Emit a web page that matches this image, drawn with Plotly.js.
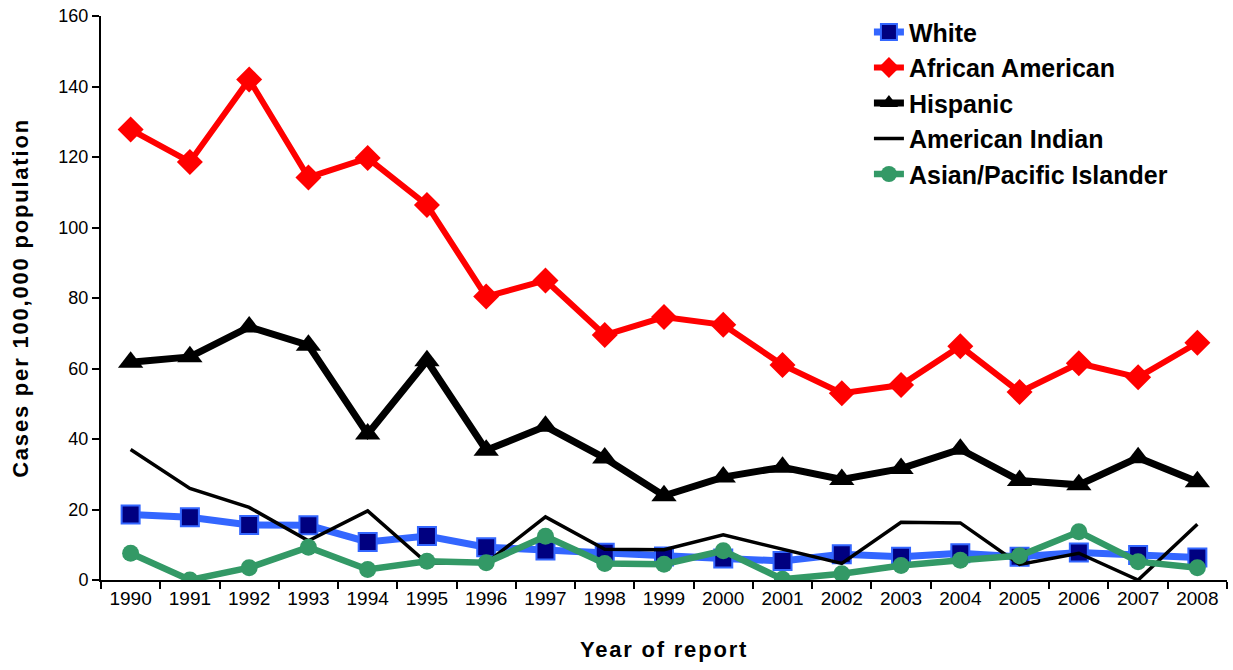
<!DOCTYPE html>
<html>
<head>
<meta charset="utf-8">
<script src="https://cdn.plot.ly/plotly-3.0.1.min.js"></script>
<style>
html,body{margin:0;padding:0;background:#fff;}
#chart{width:1233px;height:670px;}
.xtitle,.ytitle{letter-spacing:1.8px;}
</style>
</head>
<body>
<div id="chart"></div>
<script>
const years = [1990,1991,1992,1993,1994,1995,1996,1997,1998,1999,2000,2001,2002,2003,2004,2005,2006,2007,2008];
const white = [18.6,17.8,15.6,15.5,10.8,12.5,9.3,8.4,7.7,6.7,6.1,5.4,7.3,6.6,7.6,6.6,7.8,7.1,6.4];
const africanAmerican = [127.8,118.6,142.0,114.2,119.7,106.4,80.4,85.0,69.5,74.6,72.4,61.0,53.0,55.3,66.3,53.3,61.5,57.5,67.3];
const hispanic = [61.8,63.3,71.8,66.6,41.4,62.2,36.8,43.6,34.6,23.9,29.2,32.0,28.5,31.6,37.1,28.2,27.0,34.7,27.9];
const americanIndian = [37.0,26.0,20.6,11.1,19.6,4.8,4.8,17.9,8.7,8.6,12.8,8.8,4.7,16.4,16.2,4.4,7.6,0.0,15.8];
const asianPI = [7.6,0.0,3.5,9.3,3.0,5.3,4.9,12.4,4.7,4.5,8.3,0.2,1.8,4.1,5.6,6.9,13.7,5.2,3.5];
const yTicks = [0,20,40,60,80,100,120,140,160];

const traces = [
  {x: years, y: white, name: 'White', mode: 'lines+markers',
   line: {color: '#3366FF', width: 7},
   marker: {symbol: 'square', size: 18, color: '#000080', line: {color: '#3366FF', width: 2}}},
  {x: years, y: africanAmerican, name: 'African American', mode: 'lines+markers',
   line: {color: '#FF0000', width: 6},
   marker: {symbol: 'diamond', size: 20, color: '#FF0000'}},
  {x: years, y: hispanic, name: 'Hispanic', mode: 'lines+markers',
   line: {color: '#000000', width: 7},
   marker: {symbol: 'triangle-up', size: 22, color: '#000000'}},
  {x: years, y: americanIndian, name: 'American Indian', mode: 'lines',
   line: {color: '#000000', width: 3.5}},
  {x: years, y: asianPI, name: 'Asian/Pacific Islander', mode: 'lines+markers',
   line: {color: '#339966', width: 6.5},
   marker: {symbol: 'circle', size: 17, color: '#339966'}}
];

const layout = {
  width: 1233, height: 670,
  margin: {l: 101, r: 6, t: 16, b: 90},
  paper_bgcolor: '#ffffff', plot_bgcolor: '#ffffff',
  font: {family: 'Liberation Sans, Arial, sans-serif', color: '#000'},
  showlegend: true,
  legend: {x: 0.682, xanchor: 'left', y: 1.012, yanchor: 'top',
           font: {size: 25, family: 'Liberation Sans, Arial, sans-serif', weight: 'bold'},
           bgcolor: 'rgba(0,0,0,0)', tracegroupgap: 0},
  xaxis: {
    range: [1989.5, 2008.5], tickvals: years, ticktext: years.map(String),
    ticks: '', showgrid: false, zeroline: false,
    showline: true, linecolor: '#000', linewidth: 2,
    tickfont: {size: 19},
    minor: {ticks: 'outside', tick0: 1989.5, dtick: 1, ticklen: 7, tickwidth: 2, tickcolor: '#000', showgrid: false},
    title: {text: 'Year of report', font: {size: 22, weight: 'bold'}, standoff: 34}
  },
  yaxis: {
    range: [0, 160], tickvals: yTicks, ticks: 'outside', ticklen: 7, tickwidth: 2, tickcolor: '#000',
    showgrid: false, zeroline: false, showline: true, linecolor: '#000', linewidth: 2,
    tickfont: {size: 18},
    title: {text: 'Cases per 100,000 population', font: {size: 22, weight: 'bold'}, standoff: 24}
  }
};

Plotly.newPlot('chart', traces, layout, {displayModeBar: false, staticPlot: true});
</script>
</body>
</html>
